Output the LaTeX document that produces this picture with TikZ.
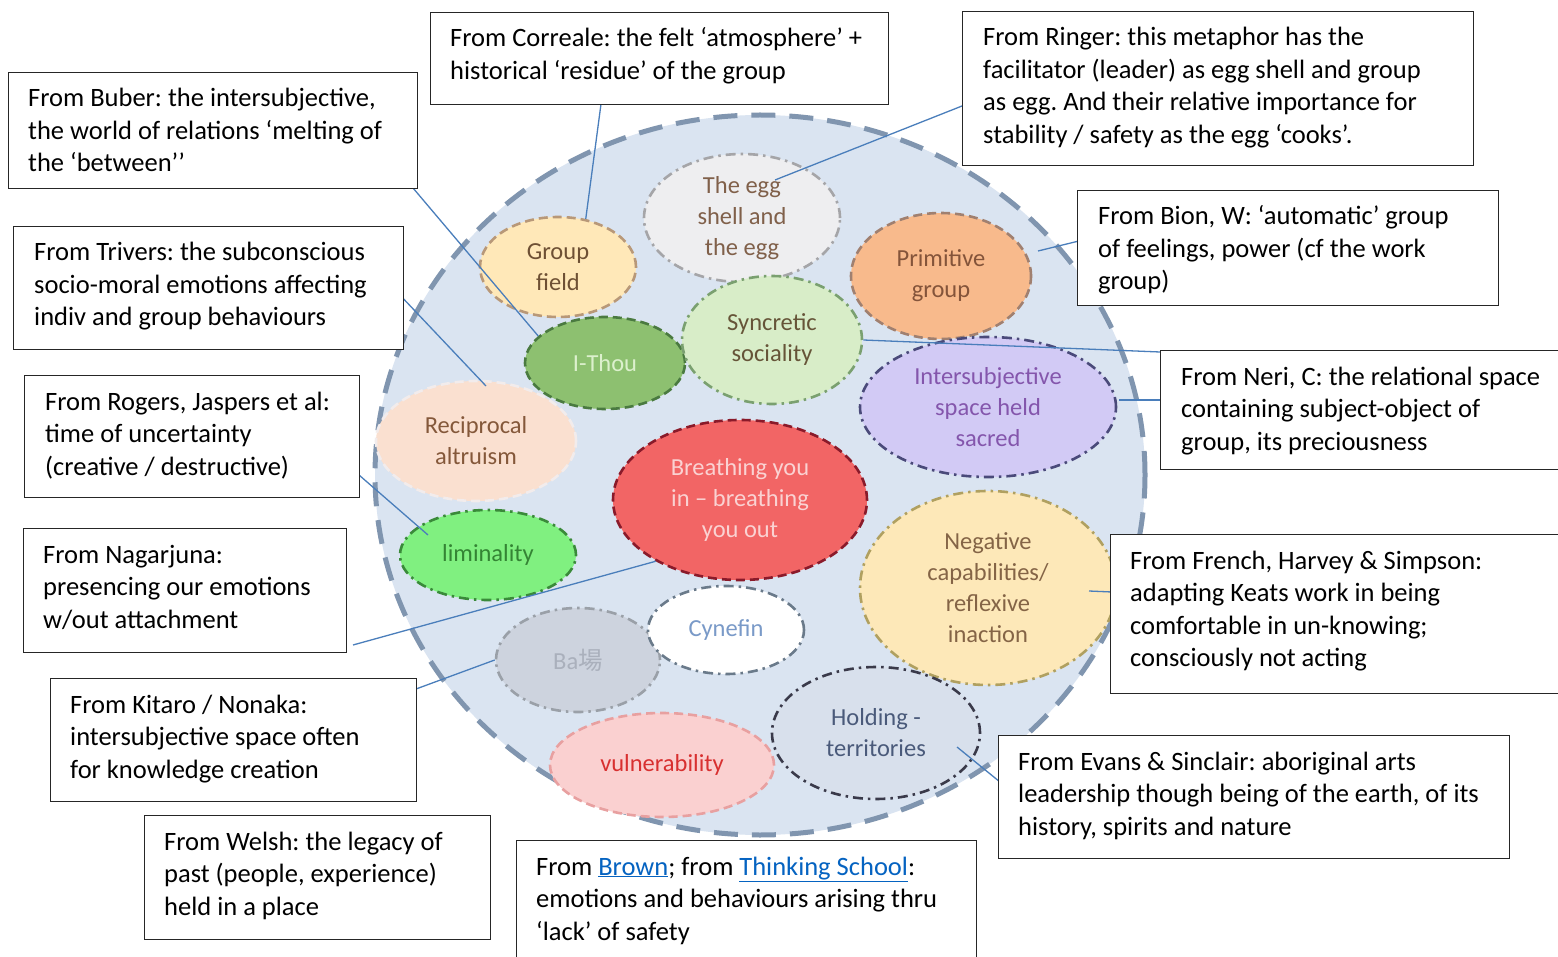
\documentclass[tikz,border=0pt]{standalone}
\usepackage{fontspec}
\setmainfont{Carlito}
\newfontfamily\cjkfont{Noto Sans CJK JP}
\usetikzlibrary{shapes.geometric}
\frenchspacing
\definecolor{bigfill}{HTML}{DAE4F1}
\definecolor{bigline}{HTML}{8095AF}
\definecolor{linkblue}{HTML}{4A7EBB}
\definecolor{urlblue}{HTML}{0563C1}
\definecolor{gfF}{HTML}{FFE8B8}\definecolor{gfD}{HTML}{B89878}\definecolor{gfT}{HTML}{6E5034}
\definecolor{eggF}{HTML}{EEEEF0}\definecolor{eggD}{HTML}{A5A5A8}\definecolor{eggT}{HTML}{80604A}
\definecolor{prF}{HTML}{F8BA8C}\definecolor{prD}{HTML}{A08070}\definecolor{prT}{HTML}{84543A}
\definecolor{syF}{HTML}{D8EDC8}\definecolor{syD}{HTML}{7AA070}\definecolor{syT}{HTML}{665438}
\definecolor{itF}{HTML}{8DC070}\definecolor{itD}{HTML}{4A7A40}\definecolor{itT}{HTML}{DCF0CD}
\definecolor{inF}{HTML}{D2CAF5}\definecolor{inD}{HTML}{4A4A7A}\definecolor{inT}{HTML}{8456AC}
\definecolor{reF}{HTML}{FAE0D0}\definecolor{reD}{HTML}{F2ECEC}\definecolor{reT}{HTML}{84583A}
\definecolor{brF}{HTML}{F26565}\definecolor{brD}{HTML}{8A1A2A}\definecolor{brT}{HTML}{FAD2D2}
\definecolor{liF}{HTML}{80F080}\definecolor{liD}{HTML}{3A8A3A}\definecolor{liT}{HTML}{348434}
\definecolor{neF}{HTML}{FDE8B8}\definecolor{neD}{HTML}{B0A060}\definecolor{neT}{HTML}{846446}
\definecolor{cyD}{HTML}{6A7A8A}\definecolor{cyT}{HTML}{7A9AC8}
\definecolor{baF}{HTML}{CDD3DE}\definecolor{baD}{HTML}{9AA0A8}\definecolor{baT}{HTML}{AAB0BC}
\definecolor{vuF}{HTML}{FAD0D0}\definecolor{vuD}{HTML}{E8A0A0}\definecolor{vuT}{HTML}{D83030}
\definecolor{hoF}{HTML}{D8E0EC}\definecolor{hoD}{HTML}{3A3A4A}\definecolor{hoT}{HTML}{4A5A7A}
\newcommand{\weblink}[1]{\textcolor{urlblue}{\underline{#1}}}
\tikzset{
  box/.style={draw=black!85, line width=1.3pt, fill=white, inner sep=0pt, anchor=north west},
  txt/.style={anchor=base west, align=left, inner sep=0pt, font=\fontsize{26.5}{32.5}\selectfont},
  bub/.style={ellipse, line width=2.6pt, inner sep=0pt, align=center, font=\fontsize{24.5}{31}\selectfont},
  dashd/.style={dash pattern=on 9pt off 5pt},
  dashdot/.style={dash pattern=on 10pt off 5pt on 2.5pt off 5pt},
  link/.style={draw=linkblue, line width=1.3pt}
}
\begin{document}
\begin{tikzpicture}[x=1pt,y=-1pt]
\useasboundingbox (0,0) rectangle (1558,957);
\fill[white] (0,0) rectangle (1558,957);
% big ellipse
\node[ellipse, fill=bigfill, draw=bigline, line width=5pt, dash pattern=on 24pt off 14pt,
  minimum width=770pt, minimum height=720pt, inner sep=0pt] (big) at (760,475) {};
% bubbles
\node[bub, dashd, fill=gfF, draw=gfD, text=gfT, minimum width=156pt, minimum height=100pt] (gf) at (558,267) {Group\\field};
\node[bub, dashdot, fill=eggF, draw=eggD, text=eggT, minimum width=196pt, minimum height=128pt] (egg) at (742,218) {The egg\\shell and\\the egg};
\node[bub, dashd, fill=prF, draw=prD, text=prT, minimum width=180pt, minimum height=126pt] (prim) at (941,276) {Primitive\\group};
\node[bub, dashd, fill=itF, draw=itD, text=itT, minimum width=160pt, minimum height=92pt] (ithou) at (605,363) {I-Thou};
\node[bub, dashdot, fill=syF, draw=syD, text=syT, minimum width=180pt, minimum height=128pt] (sync) at (772,340) {Syncretic\\sociality};
\node[bub, dashdot, fill=inF, draw=inD, text=inT, minimum width=256pt, minimum height=140pt] (inter) at (988,407) {Intersubjective\\space held\\sacred};
\node[bub, dashd, fill=reF, draw=reD, text=reT, minimum width=200pt, minimum height=120pt] (recip) at (476,441) {Reciprocal\\altruism};
\node[bub, dashd, fill=brF, draw=brD, text=brT, minimum width=254pt, minimum height=160pt] (breath) at (740,500) {Breathing you\\in -- breathing\\you out};
\node[bub, dashdot, fill=liF, draw=liD, text=liT, minimum width=176pt, minimum height=90pt] (limin) at (488,555) {liminality};
\node[bub, dashdot, fill=neF, draw=neD, text=neT, minimum width=256pt, minimum height=194pt] (neg) at (988,588) {Negative\\capabilities/\\reflexive\\inaction};
\node[bub, dashdot, fill=baF, draw=baD, text=baT, minimum width=164pt, minimum height=104pt] (ba) at (578,660) {Ba{\cjkfont 場}};
\node[bub, dashdot, fill=white, draw=cyD, text=cyT, minimum width=156pt, minimum height=88pt] (cyn) at (726,630) {Cynefin};
\node[bub, dashd, fill=vuF, draw=vuD, text=vuT, minimum width=224pt, minimum height=104pt] (vuln) at (662,765) {vulnerability};
\node[bub, dashdot, fill=hoF, draw=hoD, text=hoT, minimum width=208pt, minimum height=132pt] (hold) at (876,733) {Holding -\\territories};
% connector coordinates
\coordinate (c-corr) at (601,104);
\coordinate (c-ring) at (962,106);
\coordinate (c-egg) at (775,180);
\coordinate (c-bub) at (413,188);
\coordinate (c-bion) at (1083,240);
\coordinate (c-bionend) at (1038,251);
\coordinate (c-triv) at (398,293);
\coordinate (c-recip) at (486,386);
\coordinate (c-neri1) at (1160,352);
\coordinate (c-neri2) at (1160,400);
\coordinate (c-inter) at (1119,400);
\coordinate (c-rog) at (359,475);
\coordinate (c-limin) at (428,535);
\coordinate (c-naga) at (353,645);
\coordinate (c-fren) at (1112,592);
\coordinate (c-neg) at (1089,591);
\coordinate (c-kit) at (416,689);
\coordinate (c-evans) at (1000,782);
\coordinate (c-hold) at (957,747);
\draw[link] (c-corr) -- (gf.60);
\draw[link] (c-ring) -- (c-egg);
\draw[link] (c-bub) -- (ithou.158);
\draw[link] (c-bion) -- (c-bionend);
\draw[link] (c-triv) -- (c-recip);
\draw[link] (c-neri1) -- (sync.east);
\draw[link] (c-neri2) -- (c-inter);
\draw[link] (c-rog) -- (c-limin);
\draw[link] (c-naga) -- (breath.216);
\draw[link] (c-fren) -- (c-neg);
\draw[link] (c-kit) -- (ba.west);
\draw[link] (c-evans) -- (c-hold);
% text boxes (text nodes anchored at the baseline of their last line)
\node[box, minimum width=458pt, minimum height=92pt] (corr) at (430,12) {};
\node[txt] (t-corr) at (450,79.5) {From Correale: the felt ‘atmosphere’ +\\historical ‘residue’ of the group};
\node[box, minimum width=511pt, minimum height=154pt] (ring) at (962,11) {};
\node[txt] (t-ring) at (983,143.5) {From Ringer: this metaphor has the\\facilitator (leader) as egg shell and group\\as egg. And their relative importance for\\stability / safety as the egg ‘cooks’.};
\node[box, minimum width=409pt, minimum height=116pt] (bub) at (8,72) {};
\node[txt] (t-bub) at (28,172) {From Buber: the intersubjective,\\the world of relations ‘melting of\\the ‘between’’};
\node[box, minimum width=421pt, minimum height=115pt] (bion) at (1077,190) {};
\node[txt] (t-bion) at (1098,290) {From Bion, W: ‘automatic’ group\\of feelings, power (cf the work\\group)};
\node[box, minimum width=390pt, minimum height=123pt] (triv) at (13,226) {};
\node[txt] (t-triv) at (34,326) {From Trivers: the subconscious\\socio-moral emotions affecting\\indiv and group behaviours};
\node[box, minimum width=410pt, minimum height=119pt] (neri) at (1160,350) {};
\node[txt] (t-neri) at (1181,450) {From Neri, C: the relational space\\containing subject-object of\\group, its preciousness};
\node[box, minimum width=335pt, minimum height=122pt] (rog) at (24,375) {};
\node[txt] (t-rog) at (45,475) {From Rogers, Jaspers et al:\\time of uncertainty\\(creative / destructive)};
\node[box, minimum width=323pt, minimum height=124pt] (naga) at (23,528) {};
\node[txt] (t-naga) at (43,628) {From Nagarjuna:\\presencing our emotions\\w/out attachment};
\node[box, minimum width=460pt, minimum height=159pt] (fren) at (1110,534) {};
\node[txt] (t-fren) at (1130,666.5) {From French, Harvey \& Simpson:\\adapting Keats work in being\\comfortable in un-knowing;\\consciously not acting};
\node[box, minimum width=366pt, minimum height=123pt] (kit) at (50,678) {};
\node[txt] (t-kit) at (70,778) {From Kitaro / Nonaka:\\intersubjective space often\\for knowledge creation};
\node[box, minimum width=511pt, minimum height=123pt] (evans) at (998,735) {};
\node[txt] (t-evans) at (1018,835) {From Evans \& Sinclair: aboriginal arts\\leadership though being of the earth, of its\\history, spirits and nature};
\node[box, minimum width=346pt, minimum height=124pt] (welsh) at (144,815) {};
\node[txt] (t-welsh) at (164,915) {From Welsh: the legacy of\\past (people, experience)\\held in a place};
\node[box, minimum width=460pt, minimum height=130pt] (brown) at (516,840) {};
\node[txt] (t-brown) at (536,940) {From \weblink{Brown}; from \weblink{Thinking School}:\\emotions and behaviours arising thru\\‘lack’ of safety};
\end{tikzpicture}
\end{document}
